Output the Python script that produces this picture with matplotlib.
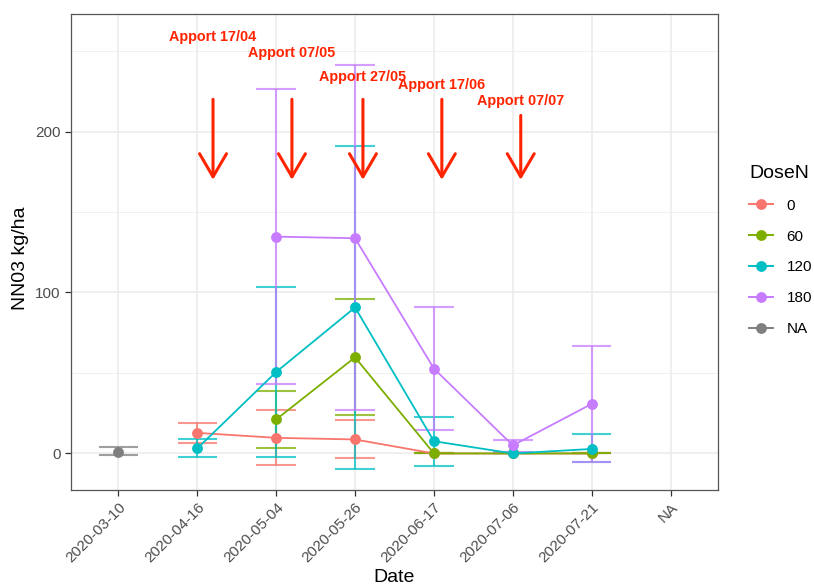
import numpy as np
import matplotlib
matplotlib.use("Agg")
import matplotlib.pyplot as plt
from matplotlib.lines import Line2D

plt.rcParams['font.family'] = ['Liberation Sans', 'DejaVu Sans']

# ---------------- data ----------------
dates = ["2020-03-10", "2020-04-16", "2020-05-04", "2020-05-26",
         "2020-06-17", "2020-07-06", "2020-07-21", "NA"]
dose_labels = ["0", "60", "120", "180", "NA"]
nan = np.nan

mean_0   = [nan, 12.8, 9.7, 8.7, 0.0, 0.0, 0.0, nan]
upper_0  = [nan, 19.0, 26.8, 20.7, 0.0, 0.0, 0.0, nan]
lower_0  = [nan, 6.2, -7.2, -2.9, 0.0, 0.0, 0.0, nan]

mean_60  = [nan, nan, 21.1, 59.7, 0.0, 0.0, 0.0, nan]
upper_60 = [nan, nan, 38.6, 95.9, 0.0, 0.0, 0.0, nan]
lower_60 = [nan, nan, 3.5, 24.2, 0.0, 0.0, 0.0, nan]

mean_120  = [nan, 3.1, 50.6, 90.7, 7.6, 0.0, 2.8, nan]
upper_120 = [nan, 8.7, 103.7, 191.1, 22.7, 0.0, 11.8, nan]
lower_120 = [nan, -2.3, -2.3, -9.5, -7.6, 0.0, -5.3, nan]

mean_180  = [nan, nan, 134.7, 133.7, 52.7, 5.0, 30.8, nan]
upper_180 = [nan, nan, 226.3, 241.2, 90.9, 8.1, 66.5, nan]
lower_180 = [nan, nan, 43.4, 26.7, 14.5, 0.8, -5.3, nan]

mean_na  = [1.0, nan, nan, nan, nan, nan, nan, nan]
upper_na = [3.9, nan, nan, nan, nan, nan, nan, nan]
lower_na = [-1.2, nan, nan, nan, nan, nan, nan, nan]

# annotations (x in category units, text y, arrow start y, arrow end y)
apport_labels = ["Apport 17/04", "Apport 07/05", "Apport 27/05", "Apport 17/06", "Apport 07/07"]
apport_x      = [1.2, 2.2, 3.1, 4.1, 5.1]
apport_text_y = [259, 249, 234, 229, 219]
apport_from_y = [220, 220, 220, 220, 210]
apport_to_y   = [170, 170, 170, 170, 170]

# ---------------- style ----------------
colors = ["#F8766D", "#7CAE00", "#00BFC4", "#C77CFF", "#7F7F7F"]
red = "#FF2400"
series = [(mean_0, upper_0, lower_0), (mean_60, upper_60, lower_60),
          (mean_120, upper_120, lower_120), (mean_180, upper_180, lower_180),
          (mean_na, upper_na, lower_na)]

W, H = 814, 587
fig = plt.figure(figsize=(W / 100, H / 100), dpi=100)
L, R, T, B = 71, 718, 14, 490
ax = fig.add_axes([L / W, 1 - B / H, (R - L) / W, (B - T) / H])

x = np.arange(len(dates))
cap = 0.25

# grid
ax.set_axisbelow(True)
for yv in [50, 150, 250]:
    ax.axhline(yv, color="#F0F0F0", lw=0.7, zorder=0)
for yv in [0, 100, 200]:
    ax.axhline(yv, color="#EBEBEB", lw=1.1, zorder=0)
for xv in x:
    ax.axvline(xv, color="#EBEBEB", lw=1.1, zorder=0)

# errorbars
for (m, up, lo), c in zip(series, colors):
    up = np.array(up, float); lo = np.array(lo, float)
    ok = ~np.isnan(up)
    ax.vlines(x[ok], lo[ok], up[ok], color=c, lw=1.5, alpha=0.75, zorder=2)
    ax.hlines(up[ok], x[ok] - cap, x[ok] + cap, color=c, lw=1.5, alpha=0.75, zorder=2)
    ax.hlines(lo[ok], x[ok] - cap, x[ok] + cap, color=c, lw=1.5, alpha=0.75, zorder=2)

# lines and points
for (m, up, lo), c in zip(series, colors):
    m = np.array(m, float)
    ax.plot(x, m, color=c, lw=1.3, zorder=3)
    ax.plot(x, m, 'o', color=c, ms=7.8, mec='none', zorder=4)

# annotations
for lab, xa, ty, fy, tyy in zip(apport_labels, apport_x, apport_text_y, apport_from_y, apport_to_y):
    ax.text(xa, ty, lab, color=red, fontsize=10.4, fontweight='bold',
            ha='center', va='center', zorder=6)
    ax.annotate('', xy=(xa, tyy), xytext=(xa, fy),
                arrowprops=dict(arrowstyle='->,head_length=1.66,head_width=0.97',
                                color=red, lw=2.2, shrinkA=0, shrinkB=0,
                                mutation_scale=10), zorder=6)

ax.set_xlim(-0.6, 7.6)
ax.set_ylim(-22.7, 273)
ax.set_xticks(x)
ax.set_xticklabels(dates, rotation=45, ha='right', va='top', rotation_mode='anchor')
ax.set_yticks([0, 100, 200])
ax.tick_params(axis='both', colors='#333333', labelcolor='#4D4D4D', labelsize=11,
               length=4, width=0.9)
for s in ax.spines.values():
    s.set_color('#555555')
    s.set_linewidth(0.9)

ax.set_xlabel("Date", fontsize=14)
ax.set_ylabel("NN03 kg/ha", fontsize=14)
ax.xaxis.set_label_coords(0.5, (B - 569) / (B - T))
ax.yaxis.set_label_coords((29 - L) / (R - L), (B - 258) / (B - T))

handles = [Line2D([0], [0], color=c, lw=1.4, marker='o', ms=7.8, mec='none') for c in colors]
leg = fig.legend(handles, dose_labels, title="DoseN", loc='upper left',
                 bbox_to_anchor=(749 / W, 1 - 165 / H), frameon=False,
                 fontsize=11, title_fontsize=14, borderpad=0, borderaxespad=0,
                 handlelength=1.6, handletextpad=0.85, labelspacing=1.1,
                 alignment='left')

fig.savefig("out.png", dpi=100)
